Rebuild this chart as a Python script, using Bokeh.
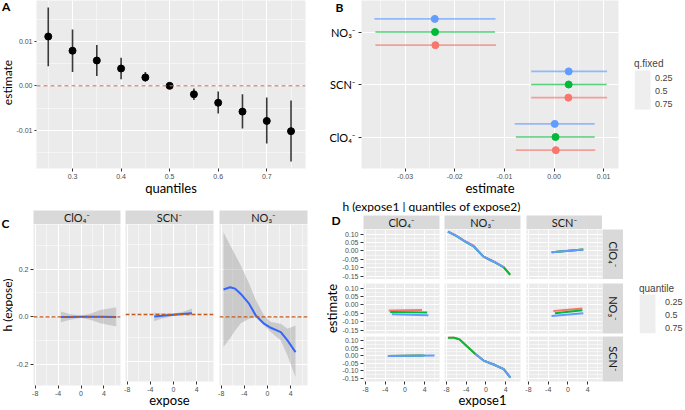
from bokeh.plotting import figure
from bokeh.layouts import row, column, Spacer
from bokeh.models import (Range1d, FactorRange, FixedTicker, Span, Label, BoxAnnotation,
                          Legend, LegendItem, ColumnDataSource)
from bokeh.core.properties import value
from bokeh.transform import dodge
from bokeh.embed import file_html
from bokeh.resources import INLINE
import math

# ---------------- data: panel A ----------------
a_quantiles = [0.25, 0.30, 0.35, 0.40, 0.45, 0.50, 0.55, 0.60, 0.65, 0.70, 0.75]
a_estimate = [0.0111, 0.0079, 0.0057, 0.0039, 0.0019, 0.0, -0.0019, -0.0038, -0.0058, -0.0079, -0.0102]
a_lower = [0.0044, 0.0031, 0.0022, 0.0015, 0.0009, 0.0, -0.0032, -0.0062, -0.0096, -0.0130, -0.0170]
a_upper = [0.0176, 0.0127, 0.0092, 0.0063, 0.0031, 0.0, -0.0006, -0.0013, -0.0019, -0.0026, -0.0033]
a_x_ticks = [0.3, 0.4, 0.5, 0.6, 0.7]
a_x_labels = ["0.3", "0.4", "0.5", "0.6", "0.7"]
a_y_ticks = [-0.01, 0.0, 0.01]
a_y_labels = ["-0.01", "0.00", "0.01"]

# ---------------- data: panel B ----------------
b_exposures = ["ClO₄⁻", "SCN⁻", "NO₃⁻"]
b_qfixed = ["0.25", "0.5", "0.75"]
b_est_q25 = [0.00036, 0.0029, -0.0239]
b_low_q25 = [-0.0077, -0.0046, -0.0360]
b_up_q25 = [0.0083, 0.0107, -0.0117]
b_est_q50 = [0.0003, 0.00296, -0.02397]
b_low_q50 = [-0.0077, -0.0046, -0.0360]
b_up_q50 = [0.0082, 0.0106, -0.0119]
b_est_q75 = [0.00015, 0.00296, -0.02403]
b_low_q75 = [-0.0079, -0.0046, -0.0362]
b_up_q75 = [0.0082, 0.0107, -0.0118]
b_x_ticks = [-0.03, -0.02, -0.01, 0.0, 0.01]
b_x_labels = ["-0.03", "-0.02", "-0.01", "0.00", "0.01"]

# ---------------- data: panel C ----------------
c_facets = ["ClO₄⁻", "SCN⁻", "NO₃⁻"]
c_clo4_x = [-3.52, -2.0, -0.06, 1.6, 3.39, 6.16]
c_clo4_fit = [-0.001, -0.0005, 0.0, 0.0003, 0.0, -0.001]
c_clo4_lo = [-0.023, -0.013, -0.004, -0.012, -0.027, -0.041]
c_clo4_hi = [0.022, 0.012, 0.004, 0.013, 0.029, 0.040]
c_scn_x = [-3.34, -2.0, 0.0, 1.5, 3.17]
c_scn_fit = [-0.0085, -0.0055, -0.0008, 0.0025, 0.0055]
c_scn_lo = [-0.029, -0.017, -0.006, -0.003, -0.004]
c_scn_hi = [0.008, 0.004, 0.004, 0.011, 0.026]
c_no3_x = [-7.61, -6.47, -5.6, -4.62, -3.19, -2.03, -0.6, 0.56, 2.29, 3.44, 4.83]
c_no3_fit = [0.1145, 0.124, 0.118, 0.096, 0.055, 0.0055, -0.029, -0.046, -0.064, -0.099, -0.148]
c_no3_hi = [0.355, 0.30, 0.26, 0.215, 0.14, 0.07, 0.005, -0.022, -0.029, -0.05, -0.036]
c_no3_lo = [-0.127, -0.09, -0.057, -0.027, -0.008, -0.002, -0.036, -0.064, -0.099, -0.162, -0.253]
c_x_ticks = [-8, -4, 0, 4]
c_x_labels = ["-8", "-4", "0", "4"]
c_y_ticks = [-0.2, 0.0, 0.2]
c_y_labels = ["-0.2", "0.0", "0.2"]

# ---------------- data: panel D ----------------
d_names = ["ClO₄⁻", "NO₃⁻", "SCN⁻"]
d_quantiles = ["0.25", "0.5", "0.75"]
d_y_ticks = [-0.15, -0.10, -0.05, 0.0, 0.05, 0.10]
d_y_labels = ["-0.15", "-0.10", "-0.05", "0.00", "0.05", "0.10"]
# row ClO4 / column NO3
d11_x = [-7.7, -6.0, -4.5, -2.5, -0.5, 1.5, 3.6, 4.9]
d11_q25 = [0.115, 0.089, 0.062, 0.031, -0.034, -0.063, -0.097, -0.141]
d11_q50 = [0.115, 0.089, 0.060, 0.026, -0.034, -0.063, -0.098, -0.142]
d11_x75 = [-7.7, -6.0, -4.5, -2.5, -0.5, 1.5, 3.6]
d11_q75 = [0.115, 0.089, 0.061, 0.027, -0.034, -0.063, -0.097]
# row ClO4 / column SCN
d12_x = [-3.3, 3.1]
d12_q25 = [-0.0085, 0.0075]
d12_q50 = [-0.0085, 0.0075]
d12_q75 = [-0.0085, 0.0075]
# row NO3 / column ClO4
d20_x25 = [-3.3, 3.45]
d20_q25 = [-0.033, -0.030]
d20_x50 = [-3.0, 4.5]
d20_q50 = [-0.042, -0.046]
d20_x75 = [-2.65, 4.75]
d20_q75 = [-0.056, -0.061]
# row NO3 / column SCN
d22_x25 = [-2.97, 2.92]
d22_q25 = [-0.036, -0.022]
d22_x50 = [-2.65, 2.92]
d22_q50 = [-0.050, -0.032]
d22_x75 = [-3.32, 3.12]
d22_q75 = [-0.066, -0.050]
# row SCN / column ClO4
d30_x25 = [-3.3, 3.4]
d30_q25 = [-0.002, 0.001]
d30_x50 = [-3.2, 4.0]
d30_q50 = [-0.002, 0.002]
d30_x75 = [-3.5, 6.0]
d30_q75 = [-0.002, 0.0015]
# row SCN / column NO3
d31_x = [-7.7, -6.6, -5.35, -3.85, -2.15, -0.47, 1.56, 3.6, 4.95]
d31_q25 = [0.121, 0.122, 0.107, 0.062, 0.012, -0.032, -0.058, -0.088, -0.144]
d31_q50 = [0.118, 0.120, 0.108, 0.062, 0.012, -0.032, -0.058, -0.088, -0.144]
d31_x75 = [-2.15, -0.47, 1.56, 3.6, 4.95]
d31_q75 = [0.012, -0.032, -0.058, -0.088, -0.144]

Q_COLORS = ["#F8766D", "#00BA38", "#619CFF"]
PANEL_BG = "#EBEBEB"
STRIP_BG = "#D9D9D9"
KEY_BG = "#EEEEEE"
TICK_FONT = "Liberation Sans"
TITLE_FONT = "Lato"


def base_fig(width, height, xr, yr, left, right, top, bottom):
    p = figure(width=width, height=height, x_range=xr, y_range=yr,
               min_border_left=left, min_border_right=right,
               min_border_top=top, min_border_bottom=bottom,
               output_backend="svg", toolbar_location=None, title=None)
    p.background_fill_color = PANEL_BG
    p.border_fill_color = "white"
    p.outline_line_color = None
    p.grid.grid_line_color = "white"
    p.grid.grid_line_width = 1.1
    p.grid.minor_grid_line_color = "white"
    p.grid.minor_grid_line_width = 0.5
    for ax in p.axis:
        ax.axis_line_color = None
        ax.major_tick_line_color = "#333333"
        ax.major_tick_out = 3
        ax.major_tick_in = 0
        ax.minor_tick_line_color = None
        ax.major_label_text_color = "#4D4D4D"
        ax.major_label_text_font = TICK_FONT
        ax.major_label_text_font_size = "7px"
        ax.major_label_standoff = 1
        ax.axis_label_text_font = TITLE_FONT
        ax.axis_label_text_font_size = "13px"
        ax.axis_label_text_font_style = "normal"
        ax.axis_label_text_color = "black"
        ax.axis_label_standoff = 0
    return p


def blank_fig(width, height, left=0, right=0, top=0, bottom=0, bg="white", yr=None):
    p = figure(width=width, height=height, x_range=Range1d(0, 1),
               y_range=(yr if yr is not None else Range1d(0, 1)),
               min_border_left=left, min_border_right=right,
               min_border_top=top, min_border_bottom=bottom,
               x_axis_location=None, y_axis_location=None,
               output_backend="svg", toolbar_location=None, title=None)
    p.background_fill_color = bg
    p.border_fill_color = "white"
    p.outline_line_color = None
    p.grid.visible = False
    return p


def strip_fig(width, height, left, right, top, bottom, text, vertical=False):
    p = blank_fig(width, height, left, right, top, bottom, bg=STRIP_BG)
    p.add_layout(Label(x=0.5, y=0.5, text=text, text_align="center", text_baseline="middle",
                       angle=(-math.pi / 2 if vertical else 0),
                       text_font=TITLE_FONT, text_font_size="11px", text_color="#1A1A1A"))
    return p


def set_ticks(axis, ticks, labels, minor):
    axis.ticker = FixedTicker(ticks=ticks, minor_ticks=minor)
    axis.major_label_overrides = {t: l for t, l in zip(ticks, labels)}


def screen_label(p, text, x, y, size="12px", bold=False, angle=0.0,
                 align="left", baseline="top"):
    p.add_layout(Label(x=x, y=y, x_units="screen", y_units="screen", text=text,
                       angle=angle, text_font=TITLE_FONT,
                       text_font_style=("bold" if bold else "normal"),
                       text_font_size=size, text_baseline=baseline, text_align=align,
                       text_color="black"))


def legend_fig(width, height, left, top, bottom, title, labels, kind, key_box, key_h):
    p = blank_fig(width, height, left=left, top=top, bottom=bottom)
    kb, kt = key_box
    p.add_layout(BoxAnnotation(left=0, right=16, bottom=kb, top=kt, left_units="screen",
                               right_units="screen", bottom_units="screen", top_units="screen",
                               fill_color=KEY_BG, fill_alpha=1, line_color=None, level="underlay"))
    items = []
    for lab, col in zip(labels, Q_COLORS):
        if kind == "point":
            r = p.scatter(x=[], y=[], size=7, color=col)
        else:
            r = p.line(x=[], y=[], line_color=col, line_width=2)
        items.append(LegendItem(label=lab, renderers=[r]))
    p.add_layout(Legend(items=items, title=title, location="center_left",
                        label_text_font=TICK_FONT, label_text_font_size="9px",
                        title_text_font=TICK_FONT, title_text_font_size="10px",
                        title_text_font_style="normal",
                        glyph_width=16, glyph_height=key_h, label_height=key_h, spacing=0,
                        padding=0, margin=0, label_standoff=(5 if kind == "point" else 10),
                        title_standoff=(2 if kind == "point" else 1),
                        background_fill_alpha=0, border_line_color=None))
    return p


# ================= Panel A =================
gA = blank_fig(13, 198, top=0, bottom=26)
screen_label(gA, "estimate", 6.5, 86, size="12px", angle=math.pi / 2,
             align="center", baseline="middle")
screen_label(gA, "A", 1.5, 162, bold=True, baseline="middle")

pA = base_fig(311, 198, Range1d(0.2258, 0.7798), Range1d(-0.0186, 0.0192), 21, 19, 0, 26)
set_ticks(pA.xaxis[0], a_x_ticks, a_x_labels, [0.25, 0.35, 0.45, 0.55, 0.65, 0.75])
set_ticks(pA.yaxis[0], a_y_ticks, a_y_labels, [-0.015, -0.005, 0.005, 0.015])
pA.yaxis.major_label_standoff = 0
pA.yaxis.major_tick_out = 2
pA.xaxis.axis_label = "quantiles"
pA.xaxis.axis_label_standoff = -2
pA.add_layout(Span(location=0, dimension="width", line_color="#C8695E",
                   line_dash="4 3", line_width=1))
srcA = ColumnDataSource(dict(q=a_quantiles, est=a_estimate, lo=a_lower, up=a_upper))
pA.segment(x0="q", y0="lo", x1="q", y1="up", source=srcA, line_color="#3A3A3A", line_width=1.6)
pA.scatter(x="q", y="est", source=srcA, size=7, color="black")

# ================= Panel B =================
b_yrange = FactorRange(factors=b_exposures, range_padding=0.1, range_padding_units="absolute")
pB = base_fig(274, 198, Range1d(-0.0388, 0.0130), b_yrange, 5, 12, 0, 26)
set_ticks(pB.xaxis[0], b_x_ticks, b_x_labels, [-0.035, -0.025, -0.015, -0.005, 0.005])
pB.yaxis.major_label_text_font_size = "0px"
pB.yaxis.major_label_text_alpha = 0
pB.yaxis.major_label_standoff = 0
pB.xaxis.axis_label = "estimate"
pB.xaxis.axis_label_standoff = -2
b_sets = [(b_est_q25, b_low_q25, b_up_q25, -0.25),
          (b_est_q50, b_low_q50, b_up_q50, 0.0),
          (b_est_q75, b_low_q75, b_up_q75, 0.25)]
for (est, lo, up, off), col in zip(b_sets, Q_COLORS):
    src = ColumnDataSource(dict(exposure=b_exposures, est=est, lo=lo, up=up))
    yd = dodge("exposure", off, range=pB.y_range)
    pB.segment(x0="lo", y0=yd, x1="up", y1=yd, source=src, line_color=col,
               line_width=1.6, line_alpha=0.65)
    pB.scatter(x="est", y=yd, source=src, size=7, color=col)

# gutter with the category labels of B (shares B's factor range)
gB = blank_fig(32, 198, top=0, bottom=26, yr=b_yrange)
gB.text(x=[1.0] * len(b_exposures), y=b_exposures, text=b_exposures, x_offset=-1,
        text_align="right", text_baseline="middle", text_font=value(TITLE_FONT),
        text_font_size="11px", text_color="black")
screen_label(gB, "B", 11, 169, bold=True)

pBleg = legend_fig(55, 198, 4, 0, 26, "q.fixed", b_qfixed, "point", (59, 98), 13)

# ================= Panel C =================
gC = blank_fig(13, 212)
screen_label(gC, "h (expose)", 6.5, 105.5, size="12px", angle=math.pi / 2,
             align="center", baseline="middle")
screen_label(gC, "C", 1, 195, bold=True)

c_data = [(c_clo4_x, c_clo4_fit, c_clo4_lo, c_clo4_hi),
          (c_scn_x, c_scn_fit, c_scn_lo, c_scn_hi),
          (c_no3_x, c_no3_fit, c_no3_lo, c_no3_hi)]
c_dims = [(109, 19, 2), (94, 3, 3), (102, 3, 11)]
c_cols = [gC]
c_xr = Range1d(-8.3, 6.9)
c_yr = Range1d(-0.288, 0.387)
for i, ((x, fit, lo, hi), (w, l, r), name) in enumerate(zip(c_data, c_dims, c_facets)):
    s = strip_fig(w, 26, l, r, 12, 0, name)
    p = base_fig(w, 186, c_xr, c_yr, l, r, 0, 25)
    set_ticks(p.xaxis[0], c_x_ticks, c_x_labels, [-6, -2, 2, 6])
    set_ticks(p.yaxis[0], c_y_ticks, c_y_labels, [-0.1, 0.1, 0.3])
    if i > 0:
        p.yaxis.visible = False
    if i == 1:
        p.xaxis.axis_label = "expose"
        p.xaxis.axis_label_standoff = -3
    src = ColumnDataSource(dict(x=x, fit=fit, lo=lo, hi=hi))
    p.varea(x="x", y1="lo", y2="hi", source=src, fill_color="#999999", fill_alpha=0.4)
    p.line(x="x", y="fit", source=src, line_color="#3366FF", line_width=2)
    p.add_layout(Span(location=0, dimension="width", line_color="#C05A1F",
                      line_dash="4 2", line_width=1.3))
    c_cols.append(column(s, p))

# ================= Panel D =================
header = blank_fig(367, 14)
screen_label(header, "h (expose1 | quantiles of expose2)", 24, 14, size="12px")

d_panels = {
    (0, 1): [(d11_x, d11_q25), (d11_x, d11_q50), (d11_x75, d11_q75)],
    (0, 2): [(d12_x, d12_q25), (d12_x, d12_q50), (d12_x, d12_q75)],
    (1, 0): [(d20_x25, d20_q25), (d20_x50, d20_q50), (d20_x75, d20_q75)],
    (1, 2): [(d22_x25, d22_q25), (d22_x50, d22_q50), (d22_x75, d22_q75)],
    (2, 0): [(d30_x25, d30_q25), (d30_x50, d30_q50), (d30_x75, d30_q75)],
    (2, 1): [(d31_x, d31_q25), (d31_x, d31_q50), (d31_x75, d31_q75)],
}
d_col_dims = [(123, 45, 2), (82, 3, 3), (79, 3, 0)]
d_row_dims = [(50, 0, 0), (55, 4, 1), (76, 2, 24)]
d_xr = Range1d(-8.4, 7.0)
d_yr = Range1d(-0.17, 0.127)

gD = blank_fig(45, 17, top=3, bottom=0)
screen_label(gD, "D", 13, 9.5, bold=True, baseline="middle")
strip_row = [gD, strip_fig(78, 17, 0, 2, 3, 0, d_names[0]),
             strip_fig(82, 17, 3, 3, 3, 0, d_names[1]),
             strip_fig(79, 17, 3, 0, 3, 0, d_names[2]),
             Spacer(width=83, height=17)]
d_layout_rows = [row(*strip_row)]

for ri, (h, t, b) in enumerate(d_row_dims):
    figs_row = []
    for ci, (w, l, r) in enumerate(d_col_dims):
        p = base_fig(w, h, d_xr, d_yr, l, r, t, b)
        set_ticks(p.xaxis[0], c_x_ticks, c_x_labels, [-6, -2, 2, 6])
        set_ticks(p.yaxis[0], d_y_ticks, d_y_labels,
                  [-0.125, -0.075, -0.025, 0.025, 0.075, 0.125])
        if ci > 0:
            p.yaxis.visible = False
        if ri < 2:
            p.xaxis.visible = False
        if ri == 1 and ci == 0:
            p.yaxis.axis_label = "estimate"
            p.yaxis.axis_label_standoff = 0
        if ri == 2 and ci == 1:
            p.xaxis.axis_label = "expose1"
            p.xaxis.axis_label_standoff = -3
        if (ri, ci) in d_panels:
            for (x, y), col in zip(d_panels[(ri, ci)], Q_COLORS):
                p.line(x=x, y=y, line_color=col, line_width=2)
        figs_row.append(p)
    figs_row.append(strip_fig(21, h, 0, 0, t, b, d_names[ri], vertical=True))
    if ri == 1:
        figs_row.append(legend_fig(62, h, 16, t, b, "quantile", d_quantiles, "line",
                                   (0, 39), 13))
    else:
        figs_row.append(Spacer(width=62, height=h))
    d_layout_rows.append(row(*figs_row))

top = row(gA, pA, gB, pB, pBleg)
bottom = row(row(*c_cols), column(header, *d_layout_rows))
root = column(top, bottom)

open("out.html", "w").write(file_html(root, INLINE))
